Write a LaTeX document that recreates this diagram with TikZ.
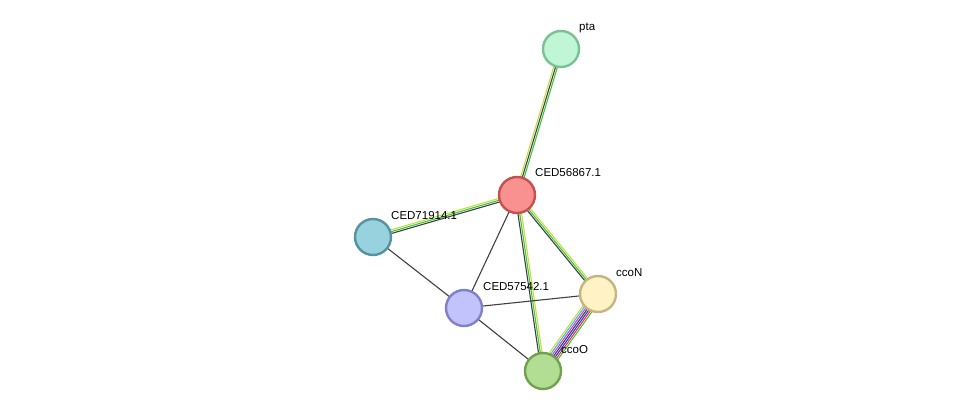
\documentclass[tikz,border=0pt]{standalone}
\usepackage{fontspec}
\setmainfont{Liberation Sans}
\usetikzlibrary{calc}
\definecolor{eg}{HTML}{3CC83C}
\definecolor{ed}{HTML}{404040}
\definecolor{ey}{HTML}{C8DC40}
\definecolor{er}{HTML}{F03030}
\definecolor{eb}{HTML}{3030F0}
\definecolor{em}{HTML}{D040D0}
\definecolor{ec}{HTML}{40C0E0}
\newcommand\medge[4]{%
 \foreach \cc [count=\i] in {#4}{\pgfmathsetmacro\oo{(\i-(#3+1)/2)*1.8}
 \draw[\cc,line width=1.1pt] ($(#1)!\oo pt!90:(#2)$) -- ($(#2)!\oo pt!-90:(#1)$);}}
\begin{document}
\begin{tikzpicture}[x=1pt,y=-1pt,
  prot/.style={circle,minimum size=36pt,inner sep=0pt,line width=2.4pt},
  lab/.style={anchor=west,font=\fontsize{11.5}{13}\selectfont,inner sep=0pt},
  one/.style={ed,line width=1.1pt}]
\useasboundingbox (0,0) rectangle (975,417);
\coordinate (pta) at (561,49);
\coordinate (c56) at (517,195);
\coordinate (c71) at (373,237);
\coordinate (c57) at (464,308);
\coordinate (ccoN) at (598,294);
\coordinate (ccoO) at (543,371);
\medge{pta}{c56}{3}{ey,ed,eg}
\medge{c56}{c71}{3}{ey,eg,ed}
\medge{c56}{ccoN}{3}{ed,eg,ey}
\medge{c56}{ccoO}{3}{ed,eg,ey}
\medge{ccoN}{ccoO}{7}{ey,ec,em,ed,eb,er,eg}
\draw[one] (c56) -- (c57);
\draw[one] (c71) -- (c57);
\draw[one] (c57) -- (ccoN);
\draw[one] (c57) -- (ccoO);
\node[prot,fill={rgb,255:red,192;green,246;blue,214},draw={rgb,255:red,122;green,194;blue,148}] (npta) at (pta) {};
\node[prot,fill={rgb,255:red,250;green,145;blue,145},draw={rgb,255:red,196;green,80;blue,80}] (n56) at (c56) {};
\node[prot,fill={rgb,255:red,152;green,210;blue,222},draw={rgb,255:red,88;green,146;blue,160}] (n71) at (c71) {};
\node[prot,fill={rgb,255:red,194;green,194;blue,252},draw={rgb,255:red,128;green,128;blue,204}] (n57) at (c57) {};
\node[prot,fill={rgb,255:red,255;green,242;blue,196},draw={rgb,255:red,196;green,182;blue,128}] (nN) at (ccoN) {};
\node[prot,fill={rgb,255:red,178;green,222;blue,148},draw={rgb,255:red,112;green,160;blue,80}] (nO) at (ccoO) {};
\node[lab] (lpta) at (579,28) {pta};
\node[lab] (l56) at (535,173) {CED56867.1};
\node[lab] (l71) at (391,216) {CED71914.1};
\node[lab] (l57) at (483,287) {CED57542.1};
\node[lab] (lN) at (616,273) {ccoN};
\node[lab] (lO) at (561,350) {ccoO};
\end{tikzpicture}
\end{document}
